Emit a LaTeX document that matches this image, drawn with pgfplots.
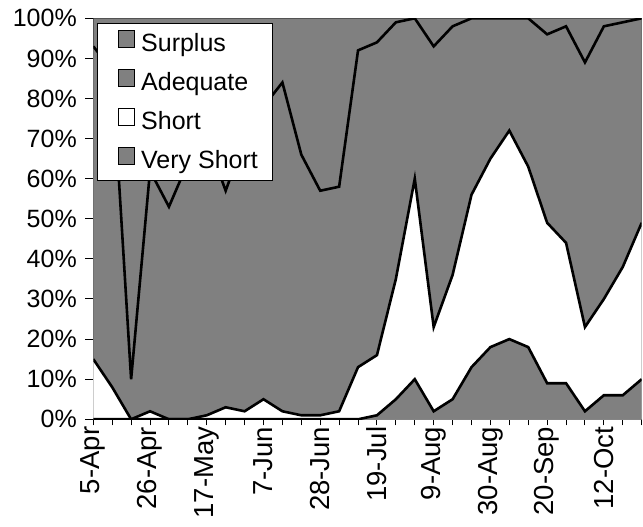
\documentclass[border=0pt]{standalone}
\usepackage{pgfplots}
\pgfplotsset{compat=1.18}
\usepackage{pgfplotstable}
\usepackage{fontspec}
\setmainfont{Liberation Sans}

% weekly shares (%), 5-Apr .. end of Oct
\pgfplotstableread{
i  vs short adeq surplus
0  0  15 78 7
1  0  8  79 13
2  0  0  10 90
3  0  2  60 38
4  0  0  53 47
5  0  0  64 36
6  0  1  69 30
7  0  3  54 43
8  0  2  68 30
9  0  5  73 22
10 0  2  82 16
11 0  1  65 34
12 0  1  56 43
13 0  2  56 42
14 0  13 79 8
15 1  15 78 6
16 5  30 64 1
17 10 50 40 0
18 2  21 70 7
19 5  31 62 2
20 13 43 44 0
21 18 47 35 0
22 20 52 28 0
23 18 45 37 0
24 9  40 47 4
25 9  35 54 2
26 2  21 66 11
27 6  24 68 2
28 6  32 61 1
29 10 39 51 0
}\data

\definecolor{areagray}{RGB}{128,128,128}

\begin{document}
\begin{tikzpicture}
\begin{axis}[
    at={(0pt,0pt)}, anchor=south west,
    scale only axis,
    width=548.4pt, height=401pt,
    xmin=0, xmax=29, ymin=0, ymax=100,
    font=\fontsize{25}{30}\selectfont,
    axis line style={black, line width=1.2pt},
    tick style={black, line width=1pt},
    tick pos=left,
    ytick align=outside,
    xtick align=center,
    major tick length=8pt,
    minor tick length=12pt,
    ytick={0,10,...,100},
    yticklabels={0\%,10\%,20\%,30\%,40\%,50\%,60\%,70\%,80\%,90\%,100\%},
    yticklabel style={xshift=-5pt},
    xtick={0,3,...,27},
    xticklabels={5-Apr,26-Apr,17-May,7-Jun,28-Jun,19-Jul,9-Aug,30-Aug,20-Sep,12-Oct},
    minor xtick={0,...,29},
    xticklabel style={rotate=90, anchor=east, font=\fontsize{27.5}{30}\selectfont},
    legend cell align=left,
    legend style={at={(0.0073,0.989)}, anchor=north west,
        draw=black, line width=0.8pt, fill=white,
        font=\fontsize{25}{30}\selectfont,
        inner xsep=14pt, inner ysep=7pt,
        column sep=6pt, row sep=13.2pt,
        nodes={inner sep=0pt, text height=18pt, text depth=5pt}},
    legend image code/.code={
        \path (0pt,0pt);
        \draw[#1, line width=0.8pt] (6pt,-2.7pt) rectangle (22.7pt,14pt);
    },
]

% areas, painted from the top series down
\addplot[fill=areagray, draw=none, forget plot] table[x=i, y expr=\thisrow{vs}+\thisrow{short}+\thisrow{adeq}+\thisrow{surplus}] {\data} \closedcycle;
\addplot[fill=areagray, draw=none, forget plot] table[x=i, y expr=\thisrow{vs}+\thisrow{short}+\thisrow{adeq}] {\data} \closedcycle;
\addplot[fill=white, draw=none, forget plot] table[x=i, y expr=\thisrow{vs}+\thisrow{short}] {\data} \closedcycle;
\addplot[fill=areagray, draw=none, forget plot] table[x=i, y=vs] {\data} \closedcycle;

% outlines
\addplot[black, line width=2.6pt, forget plot] table[x=i, y=vs] {\data};
\addplot[black, line width=2.6pt, forget plot] table[x=i, y expr=\thisrow{vs}+\thisrow{short}] {\data};
\addplot[black, line width=2.6pt, forget plot] table[x=i, y expr=\thisrow{vs}+\thisrow{short}+\thisrow{adeq}] {\data};

\addlegendimage{fill=areagray, draw=black}
\addlegendentry{Surplus}
\addlegendimage{fill=areagray, draw=black}
\addlegendentry{Adequate}
\addlegendimage{fill=white, draw=black}
\addlegendentry{Short}
\addlegendimage{fill=areagray, draw=black}
\addlegendentry{Very Short}
\end{axis}
\pgfresetboundingbox
\useasboundingbox (-93.3pt,-107.7pt) rectangle (549.7pt,419.3pt);
\end{tikzpicture}
\end{document}
